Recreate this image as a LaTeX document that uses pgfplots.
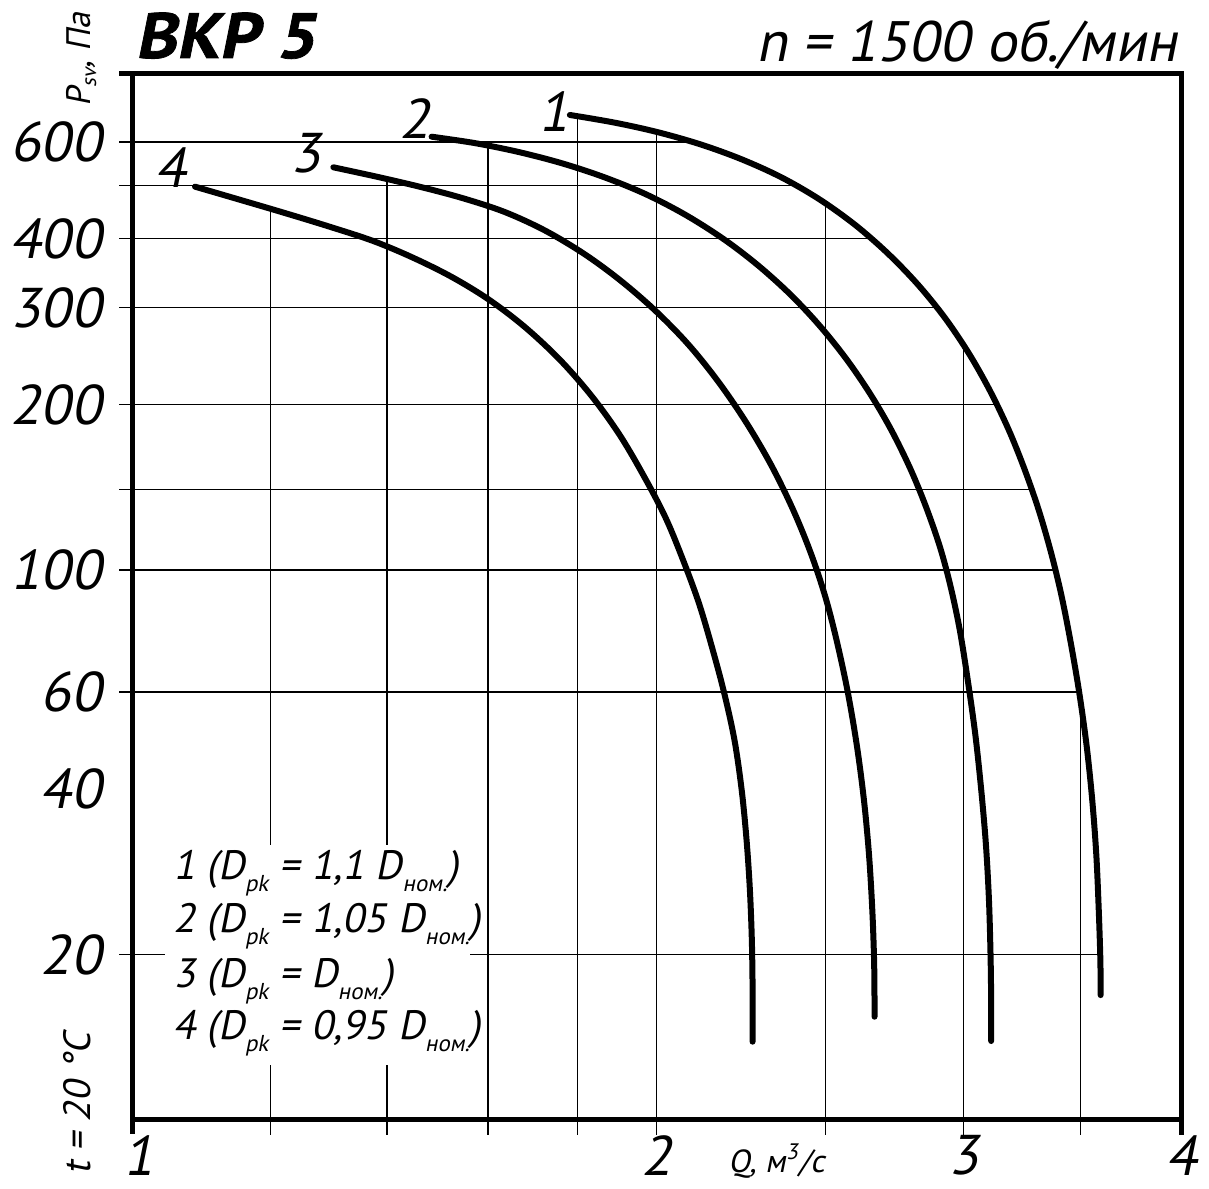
\documentclass[border=0pt]{standalone}
\usepackage{pgfplots}
\pgfplotsset{compat=1.18}
\usepackage{fontspec}
\setmainfont{PT Sans}
\newfontfamily\itf{PT Sans}[FakeSlant=0.2]
\newfontfamily\tf{PT Sans}[FakeSlant=0.2, FakeStretch=1.08, BoldFeatures={FakeBold=1.2}]
\newcommand{\sub}[1]{\raisebox{-6pt}{\fontsize{11.5}{11.5}\selectfont #1}}
\begin{document}
\begin{tikzpicture}
\useasboundingbox (-66.15pt,-34pt) rectangle (538.35pt,560pt);
\begin{axis}[
 at={(0,0)}, anchor=south west,
 scale only axis, width=524.6pt, height=523.35pt,
 xmode=log, ymode=log, xmin=1, xmax=4, ymin=10, ymax=800,
 clip=false,
 axis line style={line width=2.5pt},
 xtick={1,2,3,4}, xticklabels={\hspace*{6pt}1,2,3,4},
 ytick={20,60,100,200,300,400,600}, yticklabels={20,60,100,200,300,400,600},
 major tick length=0pt, minor tick length=0pt, minor tick num=0,
 xticklabel style={anchor=north, inner sep=0pt, yshift=-7.5pt, font=\itf\fontsize{28}{28}\selectfont},
 yticklabel style={anchor=east, inner sep=0pt, xshift=-15.15pt, font=\itf\fontsize{28}{28}\selectfont},
 gl/.style={line width=0.6pt, black, mark=none},
 cv/.style={line width=3pt, black, mark=none, smooth, tension=0.55, line cap=round, line join=round},
]
% horizontal grid lines (stop at curve 1)
\addplot[gl] coordinates {(0.9826,600) (2.0955,600)};
\addplot[gl] coordinates {(0.9826,500) (2.4025,500)};
\addplot[gl] coordinates {(0.9826,400) (2.6547,400)};
\addplot[gl] coordinates {(0.9826,300) (2.8932,300)};
\addplot[gl] coordinates {(0.9826,200) (3.1330,200)};
\addplot[gl] coordinates {(0.9826,140) (3.2822,140)};
\addplot[gl] coordinates {(0.9826,100) (3.3861,100)};
\addplot[gl] coordinates {(0.9826,60) (3.4942,60)};
\addplot[gl] coordinates {(0.9826,20) (3.593,20)};
% vertical grid lines (stop at the top curve)
\addplot[gl] coordinates {(1.2,9.392) (1.2,453.7)};
\addplot[gl] coordinates {(1.4,9.392) (1.4,513.7)};
\addplot[gl] coordinates {(1.6,9.392) (1.6,590.5)};
\addplot[gl] coordinates {(1.8,9.392) (1.8,665)};
\addplot[gl] coordinates {(2,9.392) (2,625.7)};
\addplot[gl] coordinates {(2.5,9.392) (2.5,463.1)};
\addplot[gl] coordinates {(3,9.392) (3,255.6)};
\addplot[gl] coordinates {(3.5,9.392) (3.5,57.85)};
% thick extensions of the frame
\addplot[line width=2.5pt, black, mark=none] coordinates {(1,9.45) (1,10)};
\addplot[line width=2.5pt, black, mark=none] coordinates {(4,9.392) (4,10)};
\addplot[line width=2.5pt, black, mark=none] coordinates {(0.9826,800) (1,800)};
% legend box
\fill[white] (axis cs:1.044,31.6) rectangle (axis cs:1.5625,12.59);
% curve 1
\addplot[cv] coordinates {(1.7831,671.9) (1.8898,651.1) (2.0002,625.7) (2.1172,594.5) (2.2348,558.8) (2.3562,518.0) (2.4776,472.6) (2.5984,424.3) (2.7141,376.2) (2.8239,330.3) (2.9264,287.3) (3.0207,247.5) (3.1057,211.9) (3.1847,179.4) (3.2523,152.0) (3.3134,128.2) (3.3658,107.9) (3.4112,90.74) (3.4516,75.29) (3.4928,60.51) (3.5284,48.06) (3.5553,38.17) (3.5742,30.33) (3.5862,24.09) (3.5935,19.54) (3.5949,16.87)};
% curve 2
\addplot[cv] coordinates {(1.4852,613.5) (1.5748,596.8) (1.6690,574.7) (1.7666,548.2) (1.8675,517.2) (1.9714,482.1) (2.0783,441.8) (2.1853,399.3) (2.2858,358.1) (2.3845,317.4) (2.4776,279.0) (2.5674,242.5) (2.6499,209.5) (2.7248,180.2) (2.7942,153.3) (2.8534,130.5) (2.9072,110.1) (2.9493,92.90) (2.9850,77.53) (3.0167,62.75) (3.0464,50.12) (3.0702,39.81) (3.0894,31.62) (3.1016,25.12) (3.1082,19.95) (3.1107,16.53) (3.1107,13.92)};
% curve 3
\addplot[cv] coordinates {(1.3043,539.7) (1.3835,518.3) (1.4663,496.4) (1.5492,473.8) (1.6359,447.6) (1.7249,414.4) (1.8163,375.9) (1.9048,336.7) (1.9948,296.7) (2.0839,257.5) (2.1679,220.5) (2.2493,186.0) (2.3254,155.4) (2.3940,128.8) (2.4511,107.3) (2.4974,89.80) (2.5344,75.16) (2.5723,60.51) (2.6046,48.06) (2.6293,38.17) (2.6471,30.33) (2.6585,24.09) (2.6647,19.54) (2.6664,16.53) (2.6664,15.41)};
% curve 4
\addplot[cv] coordinates {(1.0864,497.7) (1.1529,471.1) (1.2236,445.6) (1.2985,420.7) (1.3744,396.6) (1.4482,370.0) (1.5254,341.0) (1.6021,310.1) (1.6800,276.5) (1.7596,241.1) (1.8353,207.0) (1.9048,175.8) (1.9676,147.6) (2.0240,124.1) (2.0716,103.75) (2.1143,86.99) (2.1504,72.63) (2.1853,60.00) (2.2159,49.08) (2.2371,39.81) (2.2516,32.29) (2.2615,26.19) (2.2673,21.25) (2.2696,17.23) (2.2696,13.88)};
% curve numbers
\node[font=\itf\fontsize{28}{28}\selectfont] at (axis cs:1.7459,683) {1};
\node[font=\itf\fontsize{28}{28}\selectfont] at (axis cs:1.4531,662) {2};
\node[font=\itf\fontsize{28}{28}\selectfont] at (axis cs:1.2579,572) {3};
\node[font=\itf\fontsize{28}{28}\selectfont] at (axis cs:1.0525,539) {4};
% extra label 40
\node[anchor=east, inner sep=0pt, font=\itf\fontsize{28}{28}\selectfont] at ([xshift=-15.15pt]axis cs:1,40) {40};
% legend text
\node[anchor=base west, inner sep=0pt, font=\itf\fontsize{20.5}{20.5}\selectfont] at (axis cs:1.0553,27.32) {1 (D\sub{pk} = 1,1 D\sub{ном.})};
\node[anchor=base west, inner sep=0pt, font=\itf\fontsize{20.5}{20.5}\selectfont] at (axis cs:1.0553,21.88) {2 (D\sub{pk} = 1,05 D\sub{ном.})};
\node[anchor=base west, inner sep=0pt, font=\itf\fontsize{20.5}{20.5}\selectfont] at (axis cs:1.0553,17.45) {3 (D\sub{pk} = D\sub{ном.})};
\node[anchor=base west, inner sep=0pt, font=\itf\fontsize{20.5}{20.5}\selectfont] at (axis cs:1.0553,13.98) {4 (D\sub{pk} = 0,95 D\sub{ном.})};
% outer texts
\node[anchor=base west, inner sep=0pt, font=\tf\bfseries\fontsize{32}{32}\selectfont] at (rel axis cs:0.0026,1.01462) {ВКР 5};
\node[anchor=base east, inner sep=0pt, font=\itf\fontsize{28.5}{28.5}\selectfont] at (rel axis cs:0.99666,1.0108) {n = 1500 об./мин};
\node[rotate=90, anchor=base west, inner sep=0pt, font=\itf\fontsize{17}{17}\selectfont] at (rel axis cs:-0.0403,0.9678) {P\raisebox{-3pt}{\fontsize{10.5}{10.5}\selectfont sv}, Па};
\node[rotate=90, anchor=base west, inner sep=0pt, font=\itf\fontsize{19}{19}\selectfont] at (rel axis cs:-0.0403,-0.0526) {t = 20 °C};
\node[anchor=base west, inner sep=0pt, font=\itf\fontsize{16}{16}\selectfont] at (rel axis cs:0.5678,-0.0497) {Q, м\textsuperscript{3}/с};
\end{axis}
\end{tikzpicture}
\end{document}
